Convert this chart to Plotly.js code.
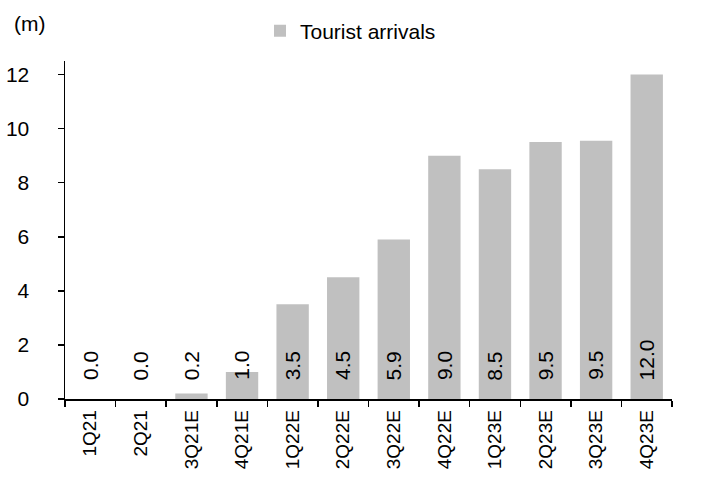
<!DOCTYPE html>
<html>
<head>
<meta charset="utf-8">
<script src="https://cdn.plot.ly/plotly-3.0.1.min.js"></script>
<style>html,body{margin:0;padding:0;background:#fff;}#chart{width:708px;height:477px;}</style>
</head>
<body>
<div id="chart"></div>
<script>
var categories = ["1Q21","2Q21","3Q21E","4Q21E","1Q22E","2Q22E","3Q22E","4Q22E","1Q23E","2Q23E","3Q23E","4Q23E"];
var arrivals = [0.0, 0.0, 0.2, 1.0, 3.5, 4.5, 5.9, 9.0, 8.5, 9.5, 9.55, 12.0];
var valueLabels = ["0.0","0.0","0.2","1.0","3.5","4.5","5.9","9.0","8.5","9.5","9.5","12.0"];
var yTicks = [0, 2, 4, 6, 8, 10, 12];
var seriesName = "Tourist arrivals";
var unitLabel = "(m)";

var FONT = "Liberation Sans, Arial, sans-serif";
var FS = 21;

var annotations = categories.map(function (c, i) {
  return {
    x: c, y: 0.62, xref: "x", yref: "y",
    text: valueLabels[i], textangle: -90,
    showarrow: false, xanchor: "center", yanchor: "bottom",
    font: {family: FONT, size: FS, color: "#000"}
  };
});
annotations.push({
  x: (29 - 65) / 607, y: (399 - 22) / 339, xref: "paper", yref: "paper",
  text: unitLabel, showarrow: false, xanchor: "center", yanchor: "middle",
  font: {family: FONT, size: FS, color: "#000"}
});

var trace = {
  type: "bar", x: categories, y: arrivals, name: seriesName,
  marker: {color: "#c0c0c0"}, showlegend: true, hoverinfo: "skip"
};

var layout = {
  width: 708, height: 477,
  margin: {l: 65, r: 36, t: 60, b: 78, pad: 0},
  paper_bgcolor: "#fff", plot_bgcolor: "#fff",
  font: {family: FONT, size: FS, color: "#000"},
  bargap: 0.36,
  showlegend: true,
  legend: {
    orientation: "h", x: (260 - 65) / 607, y: (399 - 31) / 339,
    xanchor: "left", yanchor: "middle",
    font: {family: FONT, size: FS, color: "#000"},
    bgcolor: "rgba(0,0,0,0)"
  },
  xaxis: {
    type: "category", range: [-0.5, 11.5],
    showline: true, linecolor: "#000", linewidth: 1.5,
    ticks: "outside", ticklen: 6, tickwidth: 1.5, tickcolor: "#000",
    tickson: "boundaries", tickangle: -90, ticklabelstandoff: 2,
    tickfont: {family: FONT, size: 19, color: "#000"},
    showgrid: false, zeroline: false, fixedrange: true, automargin: false
  },
  yaxis: {
    range: [0, 12.5], tickvals: yTicks, ticktext: yTicks.map(String),
    showline: true, linecolor: "#000", linewidth: 1.5,
    ticks: "outside", ticklen: 6, tickwidth: 1.5, tickcolor: "#000",
    ticklabelstandoff: 24,
    tickfont: {family: FONT, size: FS, color: "#000"},
    showgrid: false, zeroline: false, fixedrange: true, automargin: false
  },
  annotations: annotations
};

Plotly.newPlot("chart", [trace], layout, {staticPlot: true, displayModeBar: false});
</script>
</body>
</html>
